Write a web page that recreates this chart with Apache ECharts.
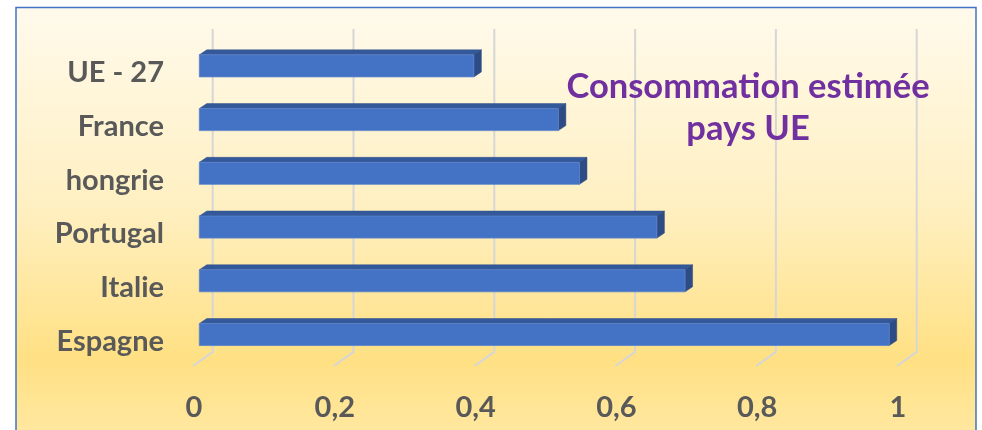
<!DOCTYPE html>
<html>
<head>
<meta charset="utf-8">
<script src="https://cdn.jsdelivr.net/npm/echarts@6/dist/echarts.min.js"></script>
<style>
html,body{margin:0;padding:0;background:#fff;}
#c{width:982px;height:430px;}
</style>
</head>
<body>
<div id="c"></div>
<script>
// Data (bottom to top on the category axis)
var categories = ['Espagne', 'Italie', 'Portugal', 'hongrie', 'France', 'UE - 27'];
var values = [0.98, 0.69, 0.65, 0.54, 0.51, 0.39];
var ticks = [0, 0.2, 0.4, 0.6, 0.8, 1];
var titleText = 'Consommation estimée\npays UE';

var FONT = 'Lato, "Open Sans", sans-serif';
var LABEL_COLOR = '#595959';

var chart = echarts.init(document.getElementById('c'), null, {renderer: 'canvas'});

var barData = values.map(function (v, i) { return [v, i]; });
var gridData = ticks.map(function (t) { return [t, 0]; });

var option = {
  animation: false,
  backgroundColor: '#ffffff',
  graphic: [{
    type: 'rect',
    z: -10,
    silent: true,
    shape: {x: 16, y: 7.5, width: 960, height: 440},
    style: {
      fill: new echarts.graphic.LinearGradient(0, 0, 0, 1, [
        {offset: 0, color: '#FFFAEC'},
        {offset: 0.45, color: '#FFF0C2'},
        {offset: 0.8, color: '#FFE083'},
        {offset: 1, color: '#FFE9A6'}
      ]),
      stroke: '#4472C4',
      lineWidth: 1.5
    }
  }],
  title: {
    text: titleText,
    left: 743,
    top: 61,
    textAlign: 'center',
    textStyle: {
      fontFamily: FONT,
      fontWeight: 'bold',
      fontSize: 34.5,
      lineHeight: 42,
      color: '#7030A0'
    }
  },
  grid: [
    {left: 194, top: 39, width: 704, height: 322.4, containLabel: false},
    {left: 194, top: 46, width: 704, height: 322.4, containLabel: false}
  ],
  xAxis: [{
    type: 'value',
    gridIndex: 0,
    min: 0,
    max: 1,
    interval: 0.2,
    axisLine: {show: false},
    axisTick: {show: false},
    splitLine: {show: false},
    axisLabel: {
      margin: 32,
      fontFamily: FONT,
      fontWeight: 'bold',
      fontSize: 29,
      color: LABEL_COLOR,
      formatter: function (v) { return String(v).replace('.', ','); }
    }
  }, {
    type: 'value',
    gridIndex: 1,
    min: 0,
    max: 1,
    interval: 0.2,
    show: false
  }],
  yAxis: [{
    type: 'category',
    gridIndex: 0,
    data: categories,
    axisLine: {show: false},
    axisTick: {show: false},
    splitLine: {show: false},
    axisLabel: {show: false}
  }, {
    type: 'category',
    gridIndex: 1,
    data: categories,
    axisLine: {show: false},
    axisTick: {show: false},
    splitLine: {show: false},
    axisLabel: {
      margin: 30,
      fontFamily: FONT,
      fontWeight: 'bold',
      fontSize: 29,
      color: LABEL_COLOR
    }
  }],
  series: [
    {
      type: 'custom',
      z: 1,
      silent: true,
      xAxisIndex: 0,
      yAxisIndex: 0,
      data: gridData,
      encode: {x: 0, y: 1},
      renderItem: function (params, api) {
        var cs = params.coordSys;
        var p = api.coord([api.value(0), 0]);
        var bx = p[0] + 18.7;
        var topY = cs.y - 10;
        var botY = cs.y + cs.height - 9.5;
        var fx = p[0] - 1;
        var fy = cs.y + cs.height + 4.6;
        return {
          type: 'polyline',
          shape: {points: [[bx, topY], [bx, botY], [fx, fy]]},
          style: {stroke: '#D6D6D6', lineWidth: 2, fill: null}
        };
      }
    },
    {
      type: 'custom',
      z: 2,
      xAxisIndex: 0,
      yAxisIndex: 0,
      data: barData,
      encode: {x: 0, y: 1},
      renderItem: function (params, api) {
        var v = api.value(0), ci = api.value(1);
        var p0 = api.coord([0, ci]);
        var p1 = api.coord([v, ci]);
        var bw = api.size([0, 1])[1] * 0.41;
        var x0 = p0[0] + 5.3, x1 = p1[0] + 5.3;
        var yT = p0[1] - bw / 2, yB = p0[1] + bw / 2;
        var dx = 7.5, dy = -5;
        return {
          type: 'group',
          children: [
            {
              type: 'polygon',
              shape: {points: [[x0, yT], [x0 + dx, yT + dy], [x1 + dx, yT + dy], [x1, yT]]},
              style: {fill: '#34599A', stroke: '#2E4F8A', lineWidth: 0.5}
            },
            {
              type: 'polygon',
              shape: {points: [[x1, yT], [x1 + dx, yT + dy], [x1 + dx, yB + dy], [x1, yB]]},
              style: {fill: '#2D4C85', stroke: '#2A4679', lineWidth: 0.5}
            },
            {
              type: 'rect',
              shape: {x: x0, y: yT, width: x1 - x0, height: bw},
              style: {fill: '#4472C4', stroke: '#5B84CC', lineWidth: 0.8}
            }
          ]
        };
      }
    }
  ]
};
chart.setOption(option);
</script>
</body>
</html>
